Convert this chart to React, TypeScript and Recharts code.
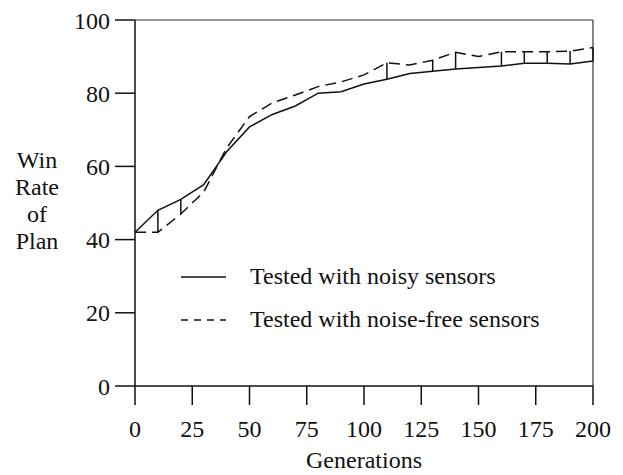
import { ErrorBar, Legend, Line, LineChart, ReferenceLine, XAxis, YAxis } from "recharts";

// Values (every 10 generations).
const GENERATIONS = [0, 10, 20, 30, 40, 50, 60, 70, 80, 90, 100, 110, 120, 130, 140, 150, 160, 170, 180, 190, 200];
const NOISY = [42, 48, 51, 55, 64, 70.8, 74.2, 76.5, 80, 80.4, 82.5, 83.8, 85.4, 86, 86.6, 87, 87.4, 88.2, 88.2, 88, 88.8];
const NOISE_FREE = [42, 42, 47, 53, 65, 73.6, 77.4, 79.5, 81.8, 83.1, 85, 88.3, 87.7, 89, 91.2, 90, 91.3, 91.3, 91.3, 91.5, 92.5];
// generations where the figure joins the two curves with a vertical bar
const BAR_GENS = [10, 20, 110, 130, 140, 160, 170, 180, 190, 200];

const X_TICKS = [0, 25, 50, 75, 100, 125, 150, 175, 200];
const Y_TICKS = [0, 20, 40, 60, 80, 100];
const Y_LABEL = ["Win", "Rate", "of", "Plan"];
const SERIES_NAMES = ["Tested with noisy sensors", "Tested with noise-free sensors"];

const FONT = "'Liberation Serif', 'Times New Roman', serif";
const INK = "#111";

const data = GENERATIONS.map((gen, i) => {
  const s = NOISY[i];
  const d = NOISE_FREE[i];
  const bar = BAR_GENS.includes(gen) ? (d > s ? [0, d - s] : [s - d, 0]) : [0, 0];
  return { gen, noisy: s, noiseFree: d, bar };
});

function YLabel() {
  return (
    <text x={37} y={168} textAnchor="middle" fontFamily={FONT} fontSize={24} fill={INK}>
      {Y_LABEL.map((w, i) => (
        <tspan key={w} x={37} dy={i === 0 ? 0 : 27}>
          {w}
        </tspan>
      ))}
    </text>
  );
}

function LegendBox() {
  return (
    <svg width={400} height={80} style={{ display: "block" }}>
      {SERIES_NAMES.map((name, i) => (
        <g key={name} transform={`translate(0, ${15 + i * 43})`}>
          <line
            x1={1}
            x2={46}
            y1={0}
            y2={0}
            stroke={INK}
            strokeWidth={1.5}
            strokeDasharray={i === 1 ? "7 6" : undefined}
          />
          <text x={70} y={7} fontFamily={FONT} fontSize={24} fill={INK}>
            {name}
          </text>
        </g>
      ))}
    </svg>
  );
}

export default function App() {
  const tick = { fontFamily: FONT, fontSize: 24, fill: INK };
  return (
    <div style={{ position: "absolute", left: 0, top: 0, width: 623, height: 475, background: "#fff" }}>
      <LineChart width={623} height={475} data={data} margin={{ top: 20, right: 30, left: 0, bottom: 0 }}>
        <XAxis
          dataKey="gen"
          type="number"
          domain={[0, 200]}
          ticks={X_TICKS}
          height={89}
          tickSize={19}
          tickMargin={15}
          tick={tick}
          stroke={INK}
          strokeWidth={1.5}
          label={{ value: "Generations", position: "insideBottom", offset: 7, style: tick }}
        />
        <YAxis
          type="number"
          domain={[0, 100]}
          ticks={Y_TICKS}
          width={135}
          tickSize={20}
          tickMargin={5}
          tick={tick}
          stroke={INK}
          strokeWidth={1.5}
          label={<YLabel />}
        />
        <ReferenceLine y={100} stroke="#333" strokeWidth={1.2} />
        <ReferenceLine x={200} stroke="#333" strokeWidth={1.2} />
        <Line
          dataKey="noisy"
          type="linear"
          stroke={INK}
          strokeWidth={1.5}
          dot={false}
          isAnimationActive={false}
        >
          <ErrorBar dataKey="bar" direction="y" width={0} stroke={INK} strokeWidth={1.5} />
        </Line>
        <Line
          dataKey="noiseFree"
          type="linear"
          stroke={INK}
          strokeWidth={1.5}
          strokeDasharray="11 6"
          dot={false}
          isAnimationActive={false}
        />
        <Legend
          layout="vertical"
          align="center"
          verticalAlign="middle"
          content={<LegendBox />}
          wrapperStyle={{ position: "absolute", left: 180, top: 262, width: 400 }}
        />
      </LineChart>
    </div>
  );
}
